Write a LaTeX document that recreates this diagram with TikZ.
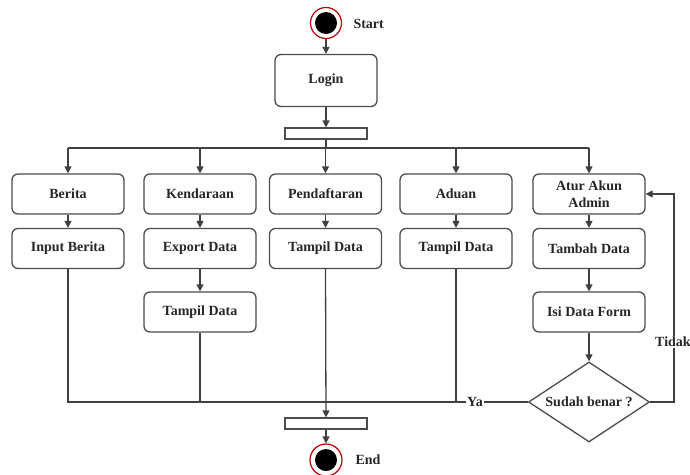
\documentclass[tikz,border=0pt]{standalone}
\usepackage{fontspec}
\setmainfont{Liberation Serif}
\usetikzlibrary{arrows.meta,shapes.geometric}
\begin{document}
\begin{tikzpicture}[x=1pt,y=-1pt,
  every node/.style={font=\fontsize{14}{16}\selectfont\bfseries, text=black!85},
  act/.style={draw=black!70, line width=1.3pt, rounded corners=6pt,
    minimum width=112pt, minimum height=40pt, inner sep=2pt, align=center, fill=white},
  bar/.style={draw=black!70, line width=1.2pt, minimum width=82pt,
    minimum height=11pt, inner sep=0pt, fill=white},
  ring/.style={circle, draw=red!75!black, line width=1.2pt, fill=white,
    minimum size=31pt, inner sep=0pt},
  dot/.style={circle, fill=black, minimum size=22pt, inner sep=0pt},
  decision/.style={diamond, aspect=1.5, draw=black!70, line width=1.3pt,
    minimum width=121pt, minimum height=80pt, inner sep=0pt, fill=white},
  flow/.style={draw=black!75, line width=1.3pt},
  arr/.style={flow, -{Triangle[length=7pt,width=7pt]}},
  tag/.style={fill=white, inner sep=1pt}
]
\useasboundingbox (0,0) rectangle (690,474);

% start and login
\node[ring] (start) at (326,23) {};
\node[dot] (startdot) at (326,23) {};
\node[anchor=west] (startlbl) at (350,24) {Start};
\node[act, minimum width=102pt, minimum height=52pt] (login) at (326,80.5) {Login};
\node[bar] (fork) at (326,133.5) {};
\coordinate (bus) at (326,148);

% first row
\node[act] (berita) at (68,194) {Berita};
\node[act] (kendaraan) at (200,194) {Kendaraan};
\node[act] (daftar) at (325.5,194) {Pendaftaran};
\node[act] (aduan) at (456,194) {Aduan};
\node[act] (atur) at (589,194) {Atur Akun\\[1pt]Admin};

% second row
\node[act] (inputberita) at (68,248.5) {Input Berita};
\node[act] (export) at (200,248.5) {Export Data};
\node[act] (tampilp) at (325.5,248.5) {Tampil Data};
\node[act] (tampila) at (456,248.5) {Tampil Data};
\node[act] (tambah) at (589,248.5) {Tambah Data};

% third row
\node[act] (tampilk) at (200,312) {Tampil Data};
\node[act] (isi) at (589,312) {Isi Data Form};

% decision, join and end
\node[decision] (cek) at (589,402) {Sudah benar ?};
\node[bar] (join) at (326,423.5) {};
\node[ring, minimum size=32pt] (end) at (326,460) {};
\node[dot] (enddot) at (326,460) {};
\node[anchor=west] (endlbl) at (352,460) {End};

\coordinate (ybend) at (68,402);
\coordinate (tr) at (674,194);

% connectors
\draw[arr] (start) -- (login);
\draw[arr] (login) -- (fork);
\draw[flow] (fork.south) -- (bus);
\draw[flow] (berita.north |- bus) -- (atur.north |- bus);
\foreach \n in {berita,kendaraan,daftar,aduan,atur}
  \draw[arr] (\n.north |- bus) -- (\n.north);

\draw[arr] (berita) -- (inputberita);
\draw[arr] (kendaraan) -- (export);
\draw[arr] (export) -- (tampilk);
\draw[arr] (daftar) -- (tampilp);
\draw[arr] (aduan) -- (tampila);
\draw[arr] (atur) -- (tambah);
\draw[arr] (tambah) -- (isi);
\draw[arr] (isi) -- (cek);

\draw[flow] (inputberita.south) -- (ybend) -- (cek.west)
  node[tag, pos=0.885] (ya) {Ya};
\draw[flow] (tampilk.south) -- (tampilk.south |- ybend);
\draw[flow] (tampila.south) -- (tampila.south |- ybend);
\draw[arr] (tampilp.south) -- (join.north);
\draw[arr] (join) -- (end);

\draw[arr] (cek.east) -| (tr) -- (atur.east);
\node[tag] (tidak) at (673,342) {Tidak};
\end{tikzpicture}
\end{document}
